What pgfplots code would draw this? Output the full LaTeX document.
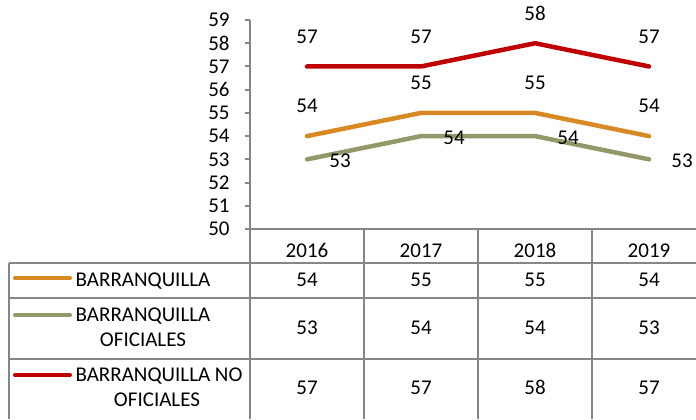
\documentclass[border=0pt]{standalone}
\usepackage{fontspec}
\setmainfont{Carlito}[Numbers=Lining]
\usepackage{pgfplots}
\pgfplotsset{compat=1.18}
\definecolor{cOr}{RGB}{217,137,35}
\definecolor{cGr}{RGB}{148,152,104}
\definecolor{cRd}{RGB}{192,0,0}
\definecolor{cAx}{RGB}{134,134,134}
\newcommand{\fnt}{\fontsize{10.5}{12.5}\selectfont}
\tikzset{fixbox/.style={text height=6.8pt, text depth=0pt}}
\begin{document}
\begin{tikzpicture}[font=\fnt]
\begin{axis}[
 scale only axis, width=223pt, height=104.5pt,
 xmin=-0.5, xmax=3.412, ymin=50, ymax=59,
 axis lines*=left,
 axis line style={cAx, line width=1pt},
 clip=false,
 xtick={0,1,2,3}, xticklabels={2016,2017,2018,2019},
 xticklabel style={anchor=center, yshift=-8.5pt, inner sep=0pt, fixbox},
 major x tick style={draw=none},
 ytick={50,51,...,59},
 tick align=outside, major tick length=2.5pt,
 major y tick style={cAx, line width=1pt},
 /pgf/number format/assume math mode=true,
 yticklabel style={anchor=east, inner sep=0pt, xshift=-7.5pt, fixbox},
 ticklabel style={font=\fnt},
]
\addplot[cOr, line width=2.25pt, line cap=round, line join=round, nodes near coords,
  every node near coord/.style={anchor=center, yshift=15pt, black, font=\fnt, inner sep=0pt, fixbox}]
  coordinates {(0,54)(1,55)(2,55)(3,54)};
\addplot[cGr, line width=2.25pt, line cap=round, line join=round, nodes near coords,
  every node near coord/.style={anchor=center, xshift=16.5pt, yshift=-0.8pt, black, font=\fnt, inner sep=0pt, fixbox}]
  coordinates {(0,53)(1,54)(2,54)(3,53)};
\addplot[cRd, line width=2.25pt, line cap=round, line join=round, nodes near coords,
  every node near coord/.style={anchor=center, yshift=15pt, black, font=\fnt, inner sep=0pt, fixbox}]
  coordinates {(0,57)(1,57)(2,58)(3,57)};
% data table values
\addplot[draw=none, nodes near coords, point meta=explicit,
  every node near coord/.style={anchor=center, black, font=\fnt, inner sep=0pt, fixbox}]
  coordinates {(0,47.804)[54] (1,47.804)[55] (2,47.804)[55] (3,47.804)[54]};
\addplot[draw=none, nodes near coords, point meta=explicit,
  every node near coord/.style={anchor=center, black, font=\fnt, inner sep=0pt, fixbox}]
  coordinates {(0,45.737)[53] (1,45.737)[54] (2,45.737)[54] (3,45.737)[53]};
\addplot[draw=none, nodes near coords, point meta=explicit,
  every node near coord/.style={anchor=center, black, font=\fnt, inner sep=0pt, fixbox}]
  coordinates {(0,43.153)[57] (1,43.153)[57] (2,43.153)[58] (3,43.153)[57]};
\end{axis}
\begin{scope}[x=0.5pt, y=-0.5pt, shift={(-125pt,114.5pt)}]
\draw[cAx, line width=1pt] (9,263) -- (696,263);
\draw[cAx, line width=1pt] (9,298) -- (696,298);
\draw[cAx, line width=1pt] (9,359) -- (696,359);
\draw[cAx, line width=1pt] (9,263) -- (9,419);
\draw[cAx, line width=1pt] (250,229) -- (250,419);
\draw[cAx, line width=1pt] (364,229) -- (364,419);
\draw[cAx, line width=1pt] (478,229) -- (478,419);
\draw[cAx, line width=1pt] (592,229) -- (592,419);
\draw[cOr, line width=2pt, line cap=round] (15,278) -- (70,278);
\draw[cGr, line width=2pt, line cap=round] (15,315) -- (70,315);
\draw[cRd, line width=2pt, line cap=round] (15,375) -- (70,375);
\node[inner sep=0pt, fixbox] at (143,280) {BARRANQUILLA};
\node[inner sep=0pt, fixbox] at (143,315) {BARRANQUILLA};
\node[inner sep=0pt, fixbox] at (143,340) {OFICIALES};
\node[inner sep=0pt, fixbox] at (159,375) {BARRANQUILLA NO};
\node[inner sep=0pt, fixbox] at (157,400) {OFICIALES};
\pgfresetboundingbox
\path[use as bounding box] (0,0) rectangle (696,419);
\end{scope}
\end{tikzpicture}
\end{document}
